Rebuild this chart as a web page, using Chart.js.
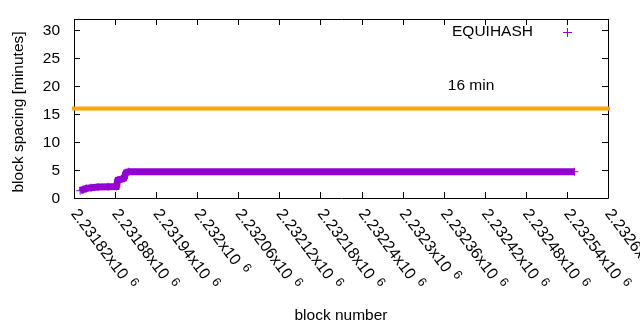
<!DOCTYPE html>
<html lang="en">
<head>
  <meta charset="UTF-8">
  <title>block spacing</title>
  <style>
* {
  margin: 0;
  padding: 0;
}
body {
  background: #fff;
}
#wrap {
  width: 640px;
  height: 330px;
}
  </style>
</head>
<body>
  <div id="wrap">
    <canvas id="myChart" width="640" height="330"></canvas>
  </div>
  <script src="https://cdn.jsdelivr.net/npm/chart.js@4/dist/chart.umd.min.js"></script>
  <script>
    // values
    let blockNumbers = [2231829, 2231833, 2231838, 2231845, 2231855, 2231870, 2231882, 2231884, 2231890, 2231893, 2231896, 2231900, 2232551];
    let spacingMinutes = [1.3, 1.5, 1.7, 1.85, 1.95, 2.0, 2.05, 3.2, 3.4, 3.5, 4.55, 4.7, 4.7];
    let targetMinutes = 16;
    let targetLabel = '16 min';
    let targetLabelAt = [2232366, 20];
    let seriesName = 'EQUIHASH';

    let xTicks = [2231820, 2231880, 2231940, 2232000, 2232060, 2232120, 2232180, 2232240, 2232300, 2232360, 2232420, 2232480, 2232540, 2232600];
    let xTickLabels = ['2.23182', '2.23188', '2.23194', '2.232', '2.23206', '2.23212', '2.23218', '2.23224', '2.2323', '2.23236', '2.23242', '2.23248', '2.23254', '2.2326'];
    let yTicks = [0, 5, 10, 15, 20, 25, 30];
    let xMin = 2231820, xMax = 2232600, yMin = 0, yMax = 32;

    const PURPLE = '#9400d3';
    const ORANGE = '#ffa500';
    const FONT = "'Liberation Sans', Arial, sans-serif";

    let ctx = document.getElementById('myChart').getContext('2d');

    // gnuplot style frame, ticks and texts
    let gnuplotFrame = {
      id: 'gnuplotFrame',
      beforeDatasetsDraw(chart) {
        let c = chart.ctx;
        let a = chart.chartArea;
        let xs = chart.scales.x, ys = chart.scales.y;
        c.save();
        c.strokeStyle = '#000';
        c.lineWidth = 1;
        c.beginPath();
        c.rect(Math.round(a.left) + 0.5, Math.round(a.top) + 0.5, Math.round(a.right - a.left), Math.round(a.bottom - a.top));
        xTicks.forEach(v => {
          let px = Math.round(xs.getPixelForValue(v)) + 0.5;
          c.moveTo(px, a.bottom); c.lineTo(px, a.bottom - 6);
          c.moveTo(px, a.top); c.lineTo(px, a.top + 6);
        });
        yTicks.forEach(v => {
          let py = Math.round(ys.getPixelForValue(v)) + 0.5;
          c.moveTo(a.left, py); c.lineTo(a.left + 6, py);
          c.moveTo(a.right, py); c.lineTo(a.right - 6, py);
        });
        c.stroke();
        c.restore();
      },
      afterDraw(chart) {
        let c = chart.ctx;
        let a = chart.chartArea;
        let xs = chart.scales.x, ys = chart.scales.y;
        c.save();
        c.fillStyle = '#000';
        c.font = '15.5px ' + FONT;

        // y tick labels
        c.textAlign = 'right';
        c.textBaseline = 'middle';
        yTicks.forEach(v => {
          c.fillText(String(v), a.left - 14, ys.getPixelForValue(v) + 1);
        });

        // rotated x tick labels
        let ang = 53 * Math.PI / 180;
        xTicks.forEach((v, i) => {
          let px = xs.getPixelForValue(v);
          c.save();
          c.translate(px, a.bottom + 13);
          c.rotate(ang);
          c.textAlign = 'left';
          c.textBaseline = 'middle';
          c.font = '16px ' + FONT;
          let s = xTickLabels[i] + 'x10';
          c.fillText(s, 0, 0);
          let w = c.measureText(s).width;
          c.font = '12.5px ' + FONT;
          c.fillText('6', w + 6, -5);
          c.restore();
        });

        // axis titles
        c.font = '15.5px ' + FONT;
        c.textAlign = 'center';
        c.textBaseline = 'middle';
        c.fillText('block number', (a.left + a.right) / 2, 316);
        c.save();
        c.translate(19, 112);
        c.rotate(-Math.PI / 2);
        c.fillText('block spacing [minutes]', 0, 0);
        c.restore();

        // key
        c.textAlign = 'left';
        c.fillText(seriesName, 452, 32);
        c.strokeStyle = PURPLE;
        c.lineWidth = 1;
        c.beginPath();
        c.moveTo(563, 32.5); c.lineTo(572, 32.5);
        c.moveTo(567.5, 28); c.lineTo(567.5, 37);
        c.stroke();

        // label for the target line
        c.fillText(targetLabel, xs.getPixelForValue(targetLabelAt[0]), ys.getPixelForValue(targetLabelAt[1]));
        c.restore();
      }
    };

    let points = blockNumbers.map((b, i) => ({ x: b, y: spacingMinutes[i] }));

    let myChart = new Chart(ctx, {
      type: 'scatter',
      data: {
        datasets: [
          {
            label: seriesName,
            data: points,
            showLine: true,
            borderColor: PURPLE,
            borderWidth: 7,
            pointStyle: 'cross',
            pointRadius: 4,
            pointBorderWidth: 1,
            pointBorderColor: PURPLE,
            backgroundColor: PURPLE,
            order: 2
          },
          {
            label: targetLabel,
            data: [{ x: xMin, y: targetMinutes }, { x: xMax, y: targetMinutes }],
            showLine: true,
            borderColor: ORANGE,
            borderWidth: 4,
            borderCapStyle: 'square',
            pointRadius: 0,
            clip: false,
            order: 1
          }
        ]
      },
      options: {
        responsive: false,
        animation: false,
        layout: {
          padding: { left: 74, top: 19, right: 32, bottom: 132 }
        },
        scales: {
          x: { type: 'linear', min: xMin, max: xMax, display: false },
          y: { type: 'linear', min: yMin, max: yMax, display: false }
        },
        plugins: {
          legend: { display: false },
          tooltip: { enabled: false }
        }
      },
      plugins: [gnuplotFrame]
    });
  </script>
</body>
</html>
